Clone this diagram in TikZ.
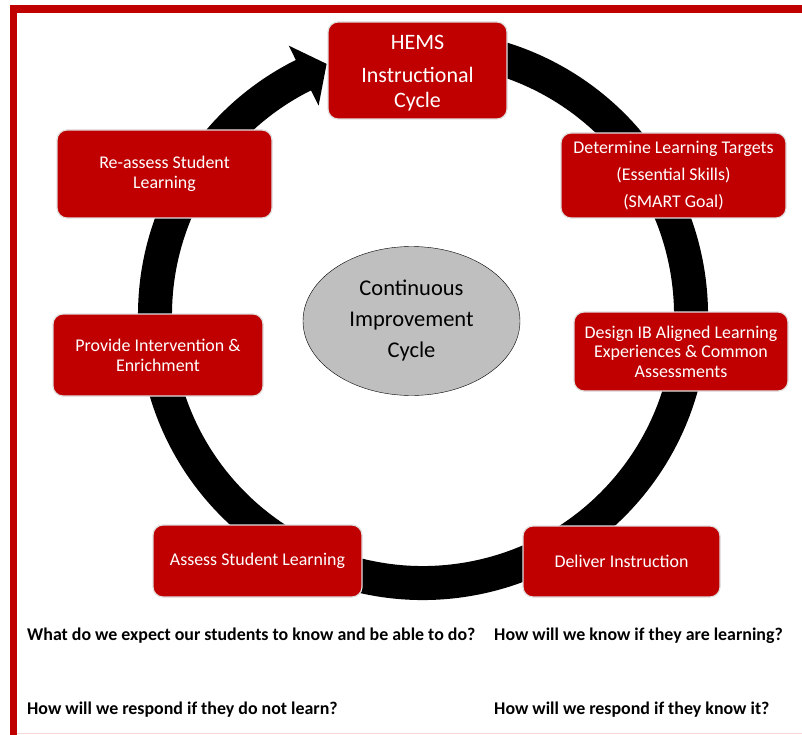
\documentclass[tikz,border=0pt]{standalone}
\usepackage{fontspec}
\setmainfont{Carlito}
\usetikzlibrary{shapes.geometric,calc}
\definecolor{rouge}{HTML}{C00000}
\definecolor{gris}{HTML}{BFBFBF}
\begin{document}
\begin{tikzpicture}[x=1pt,y=-1pt,
  etape/.style={draw=white!88!black,line width=1.2pt,fill=rouge,rounded corners=10pt,
    text=white,align=center,inner sep=0pt,font=\fontsize{17.9}{20}\selectfont},
  question/.style={anchor=west,inner sep=0pt,font=\fontsize{17.9}{20}\selectfont\bfseries}]

\useasboundingbox (0,0) rectangle (802,735) ;

% cadre

\draw[rouge,line width=7.5] (13.5,735) -- (13.5,9) -- (802,9) ;
\draw[rouge!15,line width=1.2] (17,733.5) -- (802,733.5) ;

% anneau

\coordinate (ctr) at (423,315) ;
\draw[line width=34] (ctr) ++(-100:268) arc[start angle=-100,end angle=244,radius=268] ;
\fill ($(ctr)+(243.5:301)$) -- ($(ctr)+(249:269)$) -- ($(ctr)+(243.5:234)$) -- cycle ;

% etapes

\node[etape,minimum width=179,minimum height=97,font=\fontsize{22}{25}\selectfont]
  (hems) at (417.5,70.5) {\rule{0pt}{20pt}HEMS\\[8pt]Instructional\\Cycle} ;
\node[etape,minimum width=225,minimum height=85,font=\fontsize{17.9}{27}\selectfont]
  (cibles) at (673.5,175.5) {Determine Learning Targets\\(Essential Skills)\\(SMART Goal)} ;
\node[etape,minimum width=214,minimum height=79,font=\fontsize{17.9}{19.5}\selectfont]
  (design) at (681,351.5) {Design IB Aligned Learning\\Experiences \& Common\\Assessments} ;
\node[etape,minimum width=197,minimum height=71] (livrer) at (621.5,561.5) {Deliver Instruction} ;
\node[etape,minimum width=209,minimum height=72] (evaluer) at (257.5,561) {Assess Student Learning} ;
\node[etape,minimum width=210,minimum height=82] (aider) at (158,355) {Provide Intervention \&\\Enrichment} ;
\node[etape,minimum width=215,minimum height=88] (reeval) at (164.5,174) {Re-assess Student\\Learning} ;

% centre

\node[ellipse,draw,fill=gris,minimum width=217,minimum height=149,align=center,
  font=\fontsize{22.5}{31}\selectfont] (cycle) at (411.5,321) {Continuous\\Improvement\\Cycle} ;

% questions

\node[question] (q1) at (27,636) {What do we expect our students to know and be able to do?} ;
\node[question] (q2) at (494,636) {How will we know if they are learning?} ;
\node[question] (q3) at (27,710) {How will we respond if they do not learn?} ;
\node[question] (q4) at (494,710) {How will we respond if they know it?} ;

\end{tikzpicture}
\end{document}
